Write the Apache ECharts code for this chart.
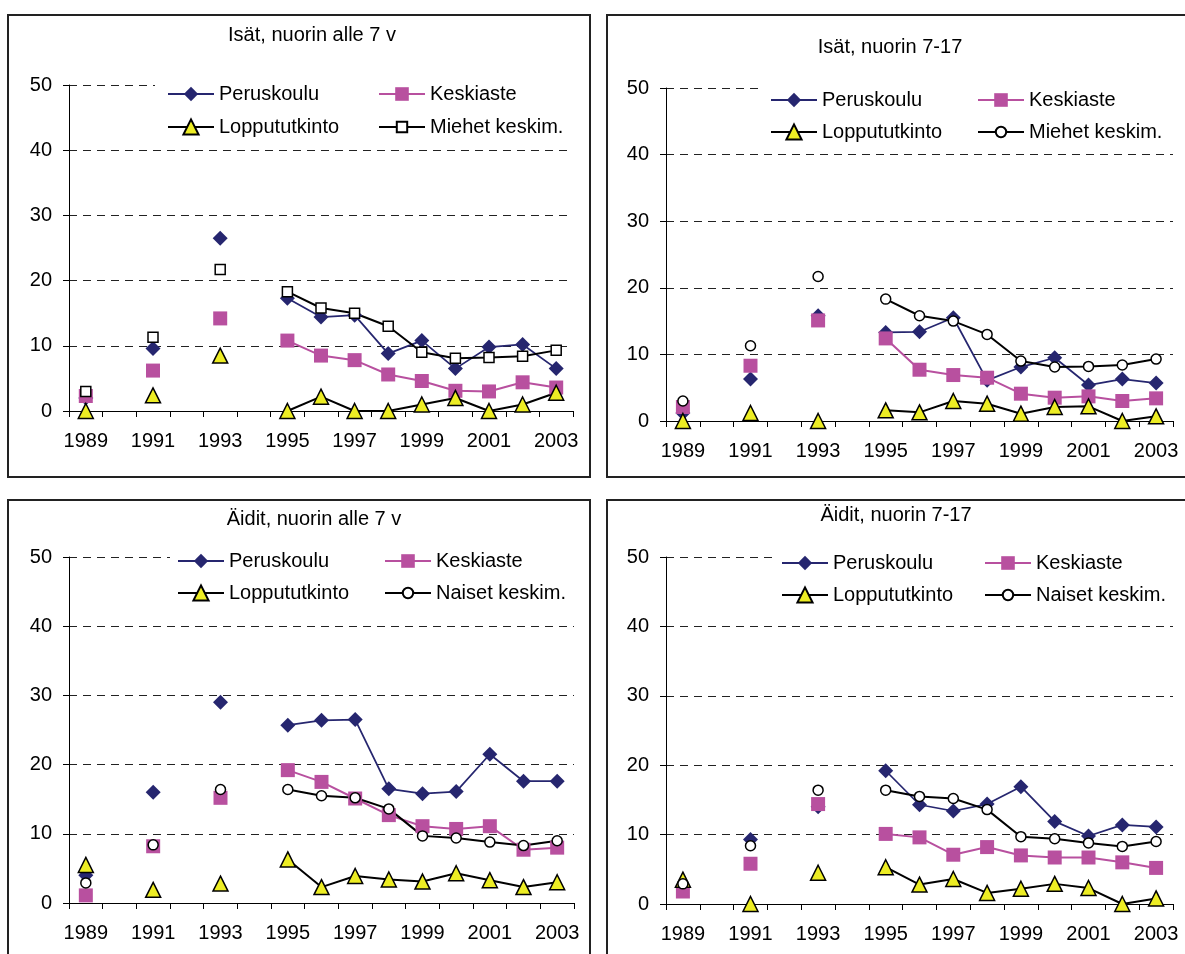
<!DOCTYPE html>
<html>
<head>
<meta charset="utf-8">
<script src="https://cdn.jsdelivr.net/npm/echarts@6/dist/echarts.min.js"></script>
<style>
  html, body { margin: 0; padding: 0; background: #fff; width: 1185px; height: 954px; overflow: hidden; }
  body { position: relative; }
  .panel { position: absolute; }
  .frame { position: absolute; border: 2px solid #222; box-sizing: border-box; pointer-events: none; }
</style>
</head>
<body>
<div id="p0" class="panel" style="left:7px;top:14px;width:583px;height:464px"></div>
<div id="p1" class="panel" style="left:606px;top:14px;width:579px;height:464px"></div>
<div id="p2" class="panel" style="left:7px;top:499px;width:583px;height:455px"></div>
<div id="p3" class="panel" style="left:606px;top:499px;width:579px;height:455px"></div>
<div class="frame" style="left:7px;top:14px;width:584px;height:464px"></div>
<div class="frame" style="left:606px;top:14px;width:600px;height:464px"></div>
<div class="frame" style="left:7px;top:499px;width:584px;height:480px"></div>
<div class="frame" style="left:606px;top:499px;width:600px;height:480px"></div>
<script>
// Years on the category axis; 1990, 1992 and 1994 have no observations.
const YEARS = ['1989','1990','1991','1992','1993','1994','1995','1996','1997','1998','1999','2000','2001','2002','2003'];
const Y_MIN = 0, Y_MAX = 50, Y_STEP = 10;

const SERIES_NAMES = ['Peruskoulu', 'Keskiaste', 'Loppututkinto'];
const MEN_AVG_NAME = 'Miehet keskim.';
const WOMEN_AVG_NAME = 'Naiset keskim.';

// Panel titles
const TITLES = ['Isät, nuorin alle 7 v', 'Isät, nuorin 7-17', 'Äidit, nuorin alle 7 v', 'Äidit, nuorin 7-17'];

// Average for all men / all women (same in both panels of a row)
const miehetKeskim = [3.0, null, 11.3, null, 21.7, null, 18.3, 15.8, 15.0, 13.0, 9.0, 8.1, 8.2, 8.4, 9.3];
const naisetKeskim = [2.9, null, 8.4, null, 16.4, null, 16.4, 15.5, 15.2, 13.6, 9.7, 9.4, 8.8, 8.3, 9.0];

// Isät, nuorin alle 7 v
const isatAlle7Peruskoulu    = [2.0, null, 9.6, null, 26.5, null, 17.3, 14.4, 14.7, 8.8, 10.8, 6.5, 9.8, 10.2, 6.5];
const isatAlle7Keskiaste     = [2.3, null, 6.2, null, 14.2, null, 10.8, 8.5, 7.8, 5.6, 4.6, 3.1, 3.0, 4.4, 3.6];
const isatAlle7Loppututkinto = [0, null, 2.4, null, 8.5, null, 0, 2.2, 0, 0, 1.0, 2.0, 0, 1.0, 2.8];

// Isät, nuorin 7-17
const isat717Peruskoulu    = [1.2, null, 6.3, null, 15.8, null, 13.3, 13.4, 15.5, 6.1, 8.1, 9.5, 5.4, 6.3, 5.7];
const isat717Keskiaste     = [2.1, null, 8.3, null, 15.1, null, 12.4, 7.7, 6.9, 6.5, 4.1, 3.5, 3.7, 3.0, 3.4];
const isat717Loppututkinto = [0, null, 1.2, null, 0, null, 1.6, 1.3, 3.0, 2.6, 1.1, 2.1, 2.2, 0, 0.7];

// Äidit, nuorin alle 7 v
const aiditAlle7Peruskoulu    = [4.0, null, 16.0, null, 29.0, null, 25.7, 26.4, 26.5, 16.5, 15.8, 16.1, 21.5, 17.6, 17.6];
const aiditAlle7Keskiaste     = [1.1, null, 8.2, null, 15.2, null, 19.2, 17.5, 15.1, 12.7, 11.1, 10.7, 11.1, 7.7, 8.0];
const aiditAlle7Loppututkinto = [5.5, null, 1.9, null, 2.8, null, 6.3, 2.3, 3.9, 3.4, 3.1, 4.3, 3.3, 2.3, 3.0];

// Äidit, nuorin 7-17
const aidit717Peruskoulu    = [2.5, null, 9.3, null, 14.0, null, 19.2, 14.3, 13.4, 14.4, 16.9, 11.9, 9.8, 11.4, 11.1];
const aidit717Keskiaste     = [1.8, null, 5.8, null, 14.4, null, 10.1, 9.6, 7.1, 8.2, 7.0, 6.7, 6.7, 6.0, 5.2];
const aidit717Loppututkinto = [3.5, null, 0, null, 4.5, null, 5.3, 2.8, 3.6, 1.6, 2.2, 2.9, 2.3, 0, 0.8];

const FONT = '"Liberation Sans", Arial, Helvetica, sans-serif';
const NAVY = '#26266f';
const PINK = '#b8509f';
const YELLOW = '#eded24';
const INK = '#000';

// Layout of each panel in its own box (pixels inside the panel)
const LAYOUT = [
  { grid: { left: 62, top: 71, width: 504, height: 326 }, title: [305, 21], legend: { x1: 160, x2: 371, row1: 80, row2: 113 }, cover: 148 },
  { grid: { left: 60, top: 74, width: 507, height: 333 }, title: [284, 33], legend: { x1: 164, x2: 371, row1: 86, row2: 118 }, cover: 154 },
  { grid: { left: 62, top: 58, width: 505, height: 346 }, title: [307, 20], legend: { x1: 170, x2: 377, row1: 62, row2: 94 }, cover: 163 },
  { grid: { left: 60, top: 58, width: 507, height: 347 }, title: [290, 16], legend: { x1: 175, x2: 378, row1: 64, row2: 96 }, cover: 167 }
];

const PANELS = [
  { title: TITLES[0], avgName: MEN_AVG_NAME, avgSymbol: 'rect', data: [isatAlle7Peruskoulu, isatAlle7Keskiaste, isatAlle7Loppututkinto, miehetKeskim] },
  { title: TITLES[1], avgName: MEN_AVG_NAME, avgSymbol: 'circle', data: [isat717Peruskoulu, isat717Keskiaste, isat717Loppututkinto, miehetKeskim] },
  { title: TITLES[2], avgName: WOMEN_AVG_NAME, avgSymbol: 'circle', data: [aiditAlle7Peruskoulu, aiditAlle7Keskiaste, aiditAlle7Loppututkinto, naisetKeskim] },
  { title: TITLES[3], avgName: WOMEN_AVG_NAME, avgSymbol: 'circle', data: [aidit717Peruskoulu, aidit717Keskiaste, aidit717Loppututkinto, naisetKeskim] }
];

function lineSeries(name, data, symbol, size, item, lineColor, lineWidth) {
  return {
    type: 'line', name: name, data: data,
    symbol: symbol, symbolSize: size, showSymbol: true, showAllSymbol: true,
    connectNulls: false, clip: false,
    itemStyle: item,
    lineStyle: { color: lineColor, width: lineWidth },
    emphasis: { disabled: true }
  };
}

// One legend entry; the icon symbol is 80 % of itemHeight
function legendEntry(name, x, rowCenter, iconHeight) {
  return {
    orient: 'horizontal', left: x, top: rowCenter - 10, padding: 0,
    itemWidth: 46, itemHeight: iconHeight, selectedMode: false,
    textStyle: { fontSize: 20, color: INK, fontFamily: FONT, lineHeight: 20 },
    data: [name]
  };
}

function buildOption(panel, lay) {
  const g = lay.grid;
  const L = lay.legend;
  return {
    animation: false,
    backgroundColor: '#fff',
    title: {
      text: panel.title, left: lay.title[0], top: lay.title[1], textAlign: 'center', textVerticalAlign: 'middle', padding: 0,
      textStyle: { fontSize: 20, fontWeight: 'normal', color: INK, fontFamily: FONT }
    },
    legend: [
      legendEntry(SERIES_NAMES[0], L.x1, L.row1, 18),
      legendEntry(SERIES_NAMES[2], L.x1, L.row2, 19),
      legendEntry(SERIES_NAMES[1], L.x2, L.row1, 17),
      legendEntry(panel.avgName, L.x2, L.row2, 13)
    ],
    graphic: [{
      type: 'rect', z: 1, silent: true,
      shape: { x: lay.cover, y: g.top - 12, width: g.left + g.width - lay.cover + 2, height: 24 },
      style: { fill: '#fff' }
    }],
    grid: { left: g.left, top: g.top, width: g.width, height: g.height, containLabel: false, outerBoundsMode: 'none' },
    xAxis: {
      type: 'category', data: YEARS, boundaryGap: true,
      axisLine: { show: true, lineStyle: { color: INK, width: 1 } },
      axisTick: { show: true, interval: 0, inside: false, length: 6, lineStyle: { color: INK, width: 1 } },
      axisLabel: { interval: 1, margin: 20, fontSize: 20, color: INK, fontFamily: FONT },
      splitLine: { show: false }
    },
    yAxis: {
      type: 'value', min: Y_MIN, max: Y_MAX, interval: Y_STEP,
      axisLine: { show: true, lineStyle: { color: INK, width: 1 } },
      axisTick: { show: true, inside: false, length: 6, lineStyle: { color: INK, width: 1 } },
      axisLabel: { margin: 17, fontSize: 20, color: INK, fontFamily: FONT },
      splitLine: { show: true, lineStyle: { color: '#222', width: 1, type: [8, 6] } }
    },
    series: [
      lineSeries(SERIES_NAMES[0], panel.data[0], 'diamond', 15, { color: NAVY }, NAVY, 1.75),
      lineSeries(SERIES_NAMES[1], panel.data[1], 'rect', 14, { color: PINK }, PINK, 2),
      lineSeries(SERIES_NAMES[2], panel.data[2], 'triangle', 15, { color: YELLOW, borderColor: INK, borderWidth: 1.5 }, INK, 2),
      lineSeries(panel.avgName, panel.data[3], panel.avgSymbol, 10, { color: '#fff', borderColor: INK, borderWidth: 1.5 }, INK, 2)
    ]
  };
}

PANELS.forEach(function (panel, i) {
  const chart = echarts.init(document.getElementById('p' + i), null, { renderer: 'canvas' });
  chart.setOption(buildOption(panel, LAYOUT[i]));
});
</script>
</body>
</html>
